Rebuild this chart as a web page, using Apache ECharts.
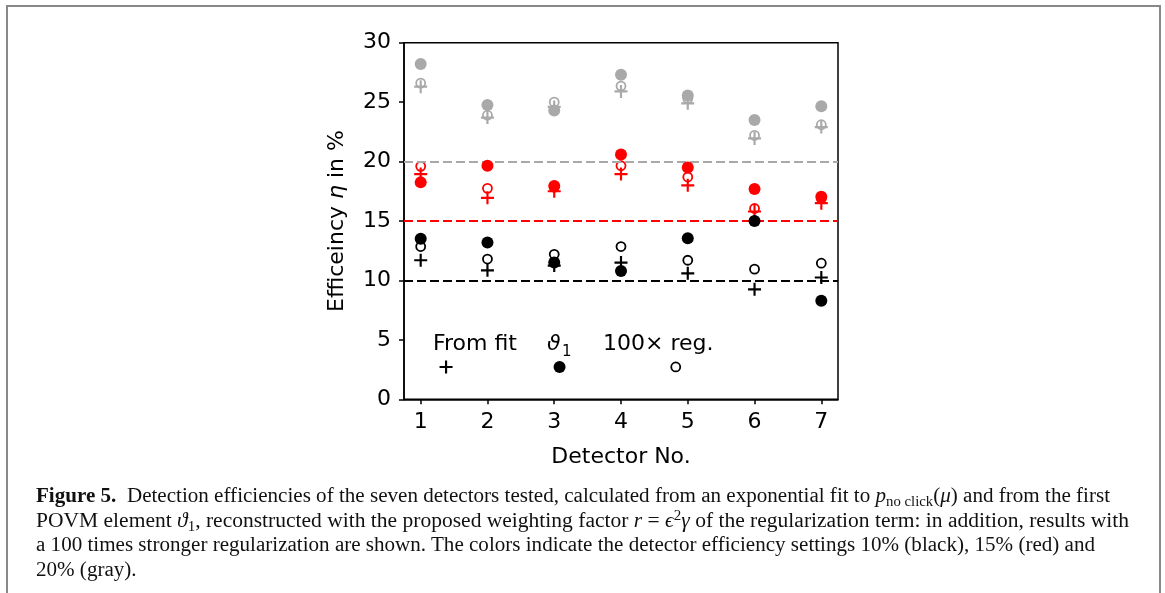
<!DOCTYPE html>
<html>
<head>
<meta charset="utf-8">
<script src="https://cdn.jsdelivr.net/npm/echarts@6/dist/echarts.min.js"></script>
<style>
  body { margin: 0; background: #fff; }
  #frame { position: absolute; left: 6px; top: 5px; width: 1151px; height: 600px; border: 2px solid #888; border-bottom: none; }
  #chart { position: absolute; left: 0; top: 0; width: 1165px; height: 593px; }
  #caption { position: absolute; left: 36px; top: 483px; font-family: "Liberation Serif", serif; font-size: 20px; line-height: 24.5px; white-space: nowrap; color: #111; }
  #caption div { transform-origin: 0 0; width: max-content; }
  #caption sub, #caption sup { font-size: 0.7em; line-height: 0; position: relative; vertical-align: baseline; }
  #caption sub { top: 0.3em; }
  #caption sup { top: -0.45em; }
</style>
</head>
<body>
<div id="frame"></div>
<div id="chart"></div>
<div id="caption">
  <div><b>Figure 5.</b>&nbsp; Detection efficiencies of the seven detectors tested, calculated from an exponential fit to <i>p</i><sub>no click</sub>(<i>μ</i>) and from the first</div>
  <div>POVM element <i>ϑ</i><sub>1</sub>, reconstructed with the proposed weighting factor <i>r</i> = <i>ϵ</i><sup>2</sup><i>γ</i> of the regularization term: in addition, results with</div>
  <div>a 100 times stronger regularization are shown. The colors indicate the detector efficiency settings 10% (black), 15% (red) and</div>
  <div>20% (gray).</div>
</div>
<script>
  // 探测器编号和刻度
  const detectors = [1, 2, 3, 4, 5, 6, 7];
  const settings = [10, 15, 20];
  const colors = ['#000000', '#ff0000', '#a9a9a9'];

  // 指数拟合 (+)
  const fitBlack = [11.7, 10.85, 11.25, 11.5, 10.6, 9.25, 10.25];
  const fitRed = [18.95, 16.95, 17.5, 18.95, 18.0, 15.8, 16.5];
  const fitGray = [26.3, 23.7, 24.6, 25.9, 24.9, 21.95, 22.9];
  // theta_1 (实心圆)
  const thetaBlack = [13.5, 13.2, 11.5, 10.8, 13.55, 15.0, 8.3];
  const thetaRed = [18.25, 19.65, 17.95, 20.6, 19.5, 17.7, 17.05];
  const thetaGray = [28.2, 24.75, 24.3, 27.3, 25.55, 23.5, 24.65];
  // 100x 正则化 (空心圆)
  const regBlack = [12.85, 11.8, 12.2, 12.85, 11.7, 10.95, 11.45];
  const regRed = [19.6, 17.75, 17.85, 19.65, 18.7, 16.05, 16.9];
  const regGray = [26.6, 23.9, 25.0, 26.35, 25.3, 22.2, 23.1];

  // 图例标记位置
  const legendX = [1.38, 3.08, 4.82];
  const legendY = 2.72;

  // 标题每行的目标宽度
  const captionWidths = [1074, 1093, 1059];

  const plusPath = 'path://M0,5h12v2h-12z M5,0h2v12h-2z';
  const font = 'DejaVu Sans';

  const pts = arr => arr.map((v, i) => [detectors[i], v]);

  const groups = [
    [fitBlack, thetaBlack, regBlack],
    [fitRed, thetaRed, regRed],
    [fitGray, thetaGray, regGray]
  ];

  const plusStyle = c => ({ color: c, opacity: 1 });
  const openStyle = c => ({ color: 'rgba(0,0,0,0)', borderColor: c, borderWidth: 1.8, opacity: 1 });
  const fillStyle = c => ({ color: c, opacity: 1 });

  const series = [];
  groups.forEach((g, k) => {
    const c = colors[k];
    series.push({
      type: 'scatter', data: pts(g[0]), symbol: plusPath, symbolSize: 13,
      itemStyle: plusStyle(c), z: 3,
      markLine: {
        silent: true, symbol: 'none', animation: false, label: { show: false },
        lineStyle: { color: c, type: [9, 4], width: 1.8, opacity: 1 },
        data: [{ yAxis: settings[k] }]
      }
    });
    series.push({
      type: 'scatter', data: pts(g[2]), symbol: 'circle', symbolSize: 9,
      itemStyle: openStyle(c), z: 4
    });
    series.push({
      type: 'scatter', data: pts(g[1]), symbol: 'circle', symbolSize: 12,
      itemStyle: fillStyle(c), z: 5
    });
  });

  // 图例符号
  series.push({ type: 'scatter', data: [[legendX[0], legendY]], symbol: plusPath, symbolSize: 13, itemStyle: plusStyle('#000') });
  series.push({ type: 'scatter', data: [[legendX[1], legendY]], symbol: 'circle', symbolSize: 12, itemStyle: fillStyle('#000') });
  series.push({ type: 'scatter', data: [[legendX[2], legendY]], symbol: 'circle', symbolSize: 9, itemStyle: openStyle('#000') });

  const myChart = echarts.init(document.getElementById('chart'));
  myChart.setOption({
    animation: false,
    grid: { left: 404, right: 327, top: 42.7, bottom: 193.7, show: true, borderColor: '#000', borderWidth: 1.5, backgroundColor: 'transparent' },
    xAxis: {
      type: 'value', min: 0.75, max: 7.25,
      axisLine: { lineStyle: { color: '#000', width: 1.5 } },
      axisTick: { length: 5, lineStyle: { color: '#000', width: 1.5 }, customValues: detectors },
      axisLabel: { color: '#000', fontSize: 22, fontFamily: font, margin: 12, customValues: detectors },
      splitLine: { show: false },
      name: 'Detector No.', nameLocation: 'middle', nameGap: 47,
      nameTextStyle: { color: '#000', fontSize: 22, fontFamily: font }
    },
    yAxis: {
      type: 'value', min: 0, max: 30, interval: 5,
      axisLine: { show: true, lineStyle: { color: '#000', width: 1.5 } },
      axisTick: { show: true, length: 5, lineStyle: { color: '#000', width: 1.5 } },
      axisLabel: { color: '#000', fontSize: 22, fontFamily: font, margin: 13 },
      splitLine: { show: false },
      name: 'Efficeincy {i|η} in %', nameLocation: 'middle', nameGap: 56, nameRotate: 90,
      nameTextStyle: { color: '#000', fontSize: 22, fontFamily: font, rich: { i: { fontSize: 22, fontFamily: font, fontStyle: 'italic', color: '#000' } } }
    },
    graphic: [
      { type: 'text', left: 433, top: 333, style: { text: 'From fit', fontSize: 22, fontFamily: font, fill: '#000' } },
      { type: 'text', left: 547, top: 333, style: { text: 'ϑ', fontSize: 22, fontFamily: font, fontStyle: 'italic', fill: '#000' } },
      { type: 'text', left: 562, top: 345, style: { text: '1', fontSize: 15, fontFamily: font, fill: '#000' } },
      { type: 'text', left: 603, top: 333, style: { text: '100× reg.', fontSize: 22, fontFamily: font, fill: '#000' } }
    ],
    series: series
  });

  // 把标题每行拉伸到原图的宽度
  const lines = document.querySelectorAll('#caption div');
  let lastScale = 1;
  lines.forEach((el, i) => {
    const w = el.getBoundingClientRect().width;
    const s = i < captionWidths.length ? captionWidths[i] / w : lastScale;
    el.style.transform = 'scaleX(' + s + ')';
    lastScale = s;
  });
</script>
</body>
</html>
